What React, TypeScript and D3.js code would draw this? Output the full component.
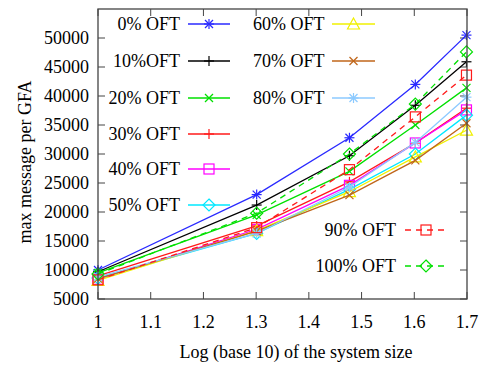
import React, { useEffect, useRef } from 'react';
import * as d3 from 'd3';

// x = log10 of system size (10, 20, 30, 40, 50)
const xVals = [1, 1.301, 1.477, 1.602, 1.699];
const xTicks = [1, 1.1, 1.2, 1.3, 1.4, 1.5, 1.6, 1.7];
const yTicks = [5000, 10000, 15000, 20000, 25000, 30000, 35000, 40000, 45000, 50000];

const seriesNames = ['0% OFT', '10%OFT', '20% OFT', '30% OFT', '40% OFT', '50% OFT',
  '60% OFT', '70% OFT', '80% OFT', '90% OFT', '100% OFT'];

const oft0 = [10000, 23000, 32800, 42000, 50500];
const oft10 = [9700, 21200, 29700, 38400, 45900];
const oft20 = [9500, 19500, 27000, 35000, 41400];
const oft30 = [9000, 17600, 25200, 31900, 37900];
const oft40 = [8400, 17000, 24600, 31900, 37600];
const oft50 = [8600, 16300, 23900, 30000, 36700];
const oft60 = [8200, 16800, 23500, 29500, 34100];
const oft70 = [8500, 16700, 22900, 28900, 35300];
const oft80 = [8800, 16300, 24300, 32000, 39800];
const oft90 = [8300, 17300, 27300, 36400, 43600];
const oft100 = [9300, 19800, 30000, 38600, 47600];

const seriesValues = [oft0, oft10, oft20, oft30, oft40, oft50, oft60, oft70, oft80, oft90, oft100];

const styles = [
  { color: '#2a2aff', marker: 'star', dash: null },
  { color: '#000000', marker: 'plus', dash: null },
  { color: '#00e000', marker: 'x', dash: null },
  { color: '#ff1a1a', marker: 'plus', dash: null },
  { color: '#ff00ff', marker: 'square', dash: null },
  { color: '#00e8ff', marker: 'diamond', dash: null },
  { color: '#f0f000', marker: 'triangle', dash: null },
  { color: '#c0661a', marker: 'x', dash: null },
  { color: '#8ccaff', marker: 'star', dash: null },
  { color: '#ff1a1a', marker: 'square', dash: '6,5' },
  { color: '#00e000', marker: 'diamond', dash: '6,5' },
];

// legend slots: [text anchor x, text anchor, line x1, line x2, y]
const legendSlots = [
  [180, 'end', 188, 230, 24], [180, 'end', 188, 230, 61], [180, 'end', 188, 230, 98],
  [180, 'end', 188, 230, 134], [180, 'end', 188, 230, 169], [180, 'end', 188, 230, 205],
  [253, 'start', 332, 375, 24], [253, 'start', 332, 375, 61], [253, 'start', 332, 375, 98],
  [396, 'end', 405, 447, 230], [396, 'end', 405, 447, 266],
];

function drawMarker(g: any, type: string, color: string, cx: number, cy: number) {
  const s = 5;
  const add = (x1: number, y1: number, x2: number, y2: number) =>
    g.append('line').attr('x1', cx + x1).attr('y1', cy + y1).attr('x2', cx + x2).attr('y2', cy + y2)
      .attr('stroke', color).attr('stroke-width', 1.2);
  if (type === 'plus' || type === 'star') { add(-s, 0, s, 0); add(0, -s, 0, s); }
  if (type === 'x' || type === 'star') { add(-s * 0.8, -s * 0.8, s * 0.8, s * 0.8); add(-s * 0.8, s * 0.8, s * 0.8, -s * 0.8); }
  if (type === 'square') {
    g.append('rect').attr('x', cx - 5).attr('y', cy - 5).attr('width', 10).attr('height', 10)
      .attr('fill', 'none').attr('stroke', color).attr('stroke-width', 1.2);
  }
  if (type === 'diamond') {
    g.append('path').attr('d', `M${cx},${cy - 6}L${cx + 6},${cy}L${cx},${cy + 6}L${cx - 6},${cy}Z`)
      .attr('fill', 'none').attr('stroke', color).attr('stroke-width', 1.2);
  }
  if (type === 'triangle') {
    g.append('path').attr('d', `M${cx},${cy - 6}L${cx + 6},${cy + 5}L${cx - 6},${cy + 5}Z`)
      .attr('fill', 'none').attr('stroke', color).attr('stroke-width', 1.2);
  }
}

export default function App() {
  const ref = useRef<SVGSVGElement>(null);

  useEffect(() => {
    const svg = d3.select(ref.current);
    svg.selectAll('*').remove();

    const left = 98, right = 467, top = 9, bottom = 299;
    const x = d3.scaleLinear().domain([1, 1.7]).range([left, right]);
    const y = d3.scaleLinear().domain([5000, 55000]).range([bottom, top]);
    const font = '"Liberation Serif", "Times New Roman", serif';
    const axisColor = '#444';

    const g = svg.append('g');

    // ticks (inward, mirrored)
    xTicks.forEach(t => {
      g.append('line').attr('x1', x(t)).attr('x2', x(t)).attr('y1', bottom).attr('y2', bottom - 7)
        .attr('stroke', axisColor);
      g.append('line').attr('x1', x(t)).attr('x2', x(t)).attr('y1', top).attr('y2', top + 7)
        .attr('stroke', axisColor);
      g.append('text').attr('x', x(t)).attr('y', 328).attr('text-anchor', 'middle')
        .attr('font-family', font).attr('font-size', 18).text(String(t));
    });
    yTicks.forEach(t => {
      g.append('line').attr('x1', left).attr('x2', left + 7).attr('y1', y(t)).attr('y2', y(t))
        .attr('stroke', axisColor);
      g.append('line').attr('x1', right).attr('x2', right - 7).attr('y1', y(t)).attr('y2', y(t))
        .attr('stroke', axisColor);
      g.append('text').attr('x', 89).attr('y', y(t) + 6).attr('text-anchor', 'end')
        .attr('font-family', font).attr('font-size', 18).text(String(t));
    });

    const line = d3.line<number>().x((d, i) => x(xVals[i])).y(d => y(d));

    seriesValues.forEach((vals, k) => {
      const st = styles[k];
      const sg = g.append('g');
      sg.append('path').datum(vals).attr('d', line).attr('fill', 'none')
        .attr('stroke', st.color).attr('stroke-width', 1.3)
        .attr('stroke-dasharray', st.dash);
      vals.forEach((v, i) => drawMarker(sg, st.marker, st.color, x(xVals[i]), y(v)));

      const [tx, anchor, lx1, lx2, ly] = legendSlots[k] as [number, string, number, number, number];
      g.append('text').attr('x', tx).attr('y', ly + 6).attr('text-anchor', anchor)
        .attr('font-family', font).attr('font-size', 18).text(seriesNames[k]);
      g.append('line').attr('x1', lx1).attr('x2', lx2).attr('y1', ly).attr('y2', ly)
        .attr('stroke', st.color).attr('stroke-width', 1.3).attr('stroke-dasharray', st.dash);
      drawMarker(g, st.marker, st.color, (lx1 + lx2) / 2, ly);
    });

    // frame
    g.append('rect').attr('x', left).attr('y', top).attr('width', right - left).attr('height', bottom - top)
      .attr('fill', 'none').attr('stroke', axisColor).attr('stroke-width', 1.3);

    g.append('text').attr('x', 296).attr('y', 358).attr('text-anchor', 'middle')
      .attr('font-family', font).attr('font-size', 18).text('Log (base 10) of the system size');
    g.append('text').attr('transform', 'translate(31,162) rotate(-90)').attr('text-anchor', 'middle')
      .attr('font-family', font).attr('font-size', 18).text('max message per GFA');
  }, []);

  return <svg ref={ref} width={480} height={367}
    style={{ position: 'absolute', left: 0, top: 0, background: '#fff' }} />;
}
